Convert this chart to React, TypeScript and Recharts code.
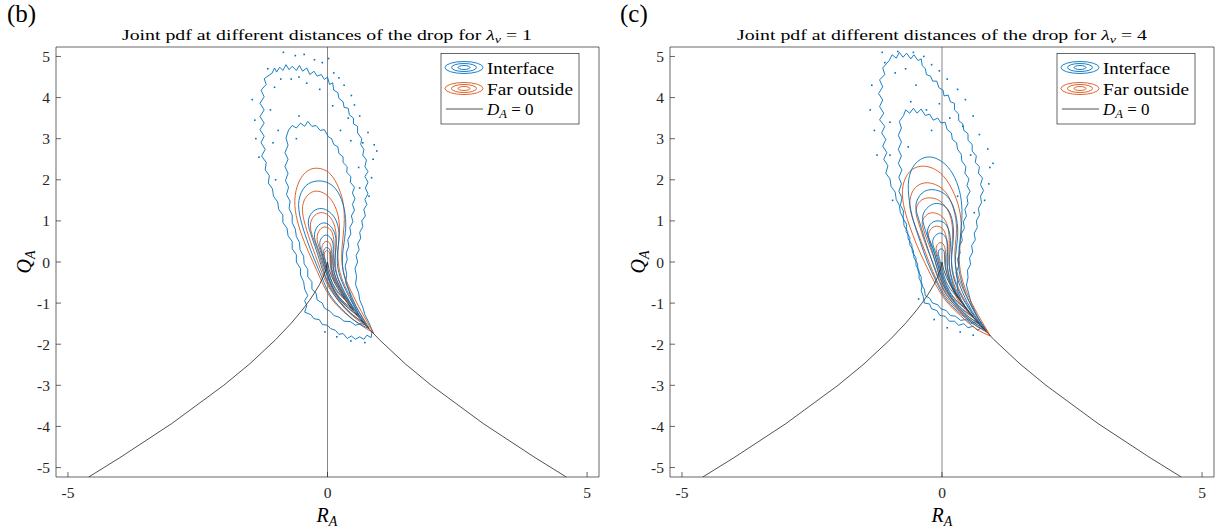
import React from 'react'
import { ComposedChart, Line, Scatter, XAxis, YAxis, ReferenceLine } from 'recharts'

const xTicks = [-5, 0, 5]
const yTicks = [-5, -4, -3, -2, -1, 0, 1, 2, 3, 4, 5]
const dom: [number, number] = [-5.23, 5.23]

// D_A = 0 curve
const dCurve = [[-4.6, -5.23], [-4, -4.76], [-3, -3.93], [-2, -3.0], [-1.5, -2.48], [-1, -1.89], [-0.7, -1.49], [-0.5, -1.19], [-0.35, -0.94], [-0.25, -0.75], [-0.15, -0.54], [-0.08, -0.35], [-0.03, -0.18], [0, 0], [0.03, -0.18], [0.08, -0.35], [0.15, -0.54], [0.25, -0.75], [0.35, -0.94], [0.5, -1.19], [0.7, -1.49], [1, -1.89], [1.5, -2.48], [2, -3.0], [3, -3.93], [4, -4.76], [4.6, -5.23]]

// panel (b), lambda = 1 : Interface (blue)
const bB1 = [[-1.07, 4.59], [-1.02, 4.72], [-0.98, 4.62], [-0.92, 4.74], [-0.86, 4.66], [-0.8, 4.8], [-0.74, 4.68], [-0.68, 4.76], [-0.6, 4.66], [-0.54, 4.78], [-0.48, 4.64], [-0.4, 4.72], [-0.34, 4.56], [-0.26, 4.64], [-0.2, 4.52], [-0.12, 4.56], [-0.06, 4.44], [0.0, 4.5], [0.04, 4.32], [0.1, 4.36], [0.12, 4.18], [0.2, 4.12], [0.22, 3.98], [0.3, 3.9], [0.32, 3.76], [0.4, 3.74], [0.42, 3.58], [0.5, 3.5], [0.5, 3.36], [0.58, 3.3], [0.58, 3.14], [0.66, 3.0], [0.64, 2.86], [0.7, 2.74], [0.68, 2.6], [0.75, 2.48], [0.72, 2.32], [0.78, 2.2], [0.72, 2.08], [0.78, 1.94], [0.73, 1.8], [0.78, 1.66], [0.72, 1.52], [0.76, 1.4], [0.7, 1.28], [0.73, 1.12], [0.66, 1.0], [0.68, 0.86], [0.62, 0.72], [0.64, 0.58], [0.58, 0.44], [0.61, 0.3], [0.55, 0.16], [0.58, 0.0], [0.53, -0.16], [0.56, -0.35], [0.54, -0.55], [0.6, -0.75], [0.62, -0.92], [0.68, -1.1], [0.72, -1.28], [0.8, -1.48], [0.86, -1.66], [0.84, -1.84], [0.76, -1.78], [0.7, -1.88], [0.62, -1.82], [0.54, -1.88], [0.46, -1.8], [0.38, -1.86], [0.3, -1.74], [0.22, -1.76], [0.15, -1.66], [0.06, -1.62], [0.0, -1.54], [-0.1, -1.52], [-0.16, -1.4], [-0.26, -1.38], [-0.32, -1.28], [-0.44, -1.22], [-0.4, -1.06], [-0.44, -0.94], [-0.38, -0.82], [-0.44, -0.66], [-0.46, -0.48], [-0.52, -0.32], [-0.52, -0.16], [-0.6, 0.0], [-0.6, 0.18], [-0.68, 0.32], [-0.68, 0.5], [-0.76, 0.64], [-0.78, 0.82], [-0.86, 0.96], [-0.86, 1.14], [-0.94, 1.28], [-0.96, 1.46], [-1.04, 1.6], [-1.06, 1.78], [-1.14, 1.92], [-1.12, 2.1], [-1.2, 2.24], [-1.18, 2.42], [-1.27, 2.58], [-1.2, 2.74], [-1.28, 2.9], [-1.22, 3.06], [-1.3, 3.22], [-1.22, 3.38], [-1.3, 3.54], [-1.22, 3.7], [-1.3, 3.86], [-1.22, 4.02], [-1.28, 4.18], [-1.18, 4.32], [-1.22, 4.46], [-1.07, 4.59]]
const bB2 = [[-0.75, 3.21], [-0.68, 3.32], [-0.6, 3.26], [-0.52, 3.38], [-0.44, 3.3], [-0.38, 3.42], [-0.3, 3.3], [-0.22, 3.32], [-0.14, 3.2], [-0.06, 3.22], [0.02, 3.04], [0.08, 3.0], [0.12, 2.86], [0.2, 2.8], [0.22, 2.64], [0.3, 2.56], [0.3, 2.42], [0.38, 2.32], [0.37, 2.18], [0.45, 2.08], [0.44, 1.94], [0.52, 1.82], [0.48, 1.68], [0.53, 1.54], [0.48, 1.4], [0.52, 1.26], [0.46, 1.12], [0.49, 0.98], [0.43, 0.84], [0.45, 0.68], [0.39, 0.54], [0.41, 0.38], [0.36, 0.22], [0.38, 0.06], [0.34, -0.1], [0.37, -0.3], [0.35, -0.5], [0.42, -0.72], [0.46, -0.92], [0.54, -1.12], [0.6, -1.28], [0.68, -1.42], [0.74, -1.52], [0.64, -1.5], [0.54, -1.54], [0.44, -1.45], [0.32, -1.44], [0.22, -1.34], [0.12, -1.3], [0.05, -1.2], [-0.06, -1.12], [-0.1, -1.0], [-0.2, -0.92], [-0.22, -0.76], [-0.3, -0.66], [-0.3, -0.48], [-0.38, -0.36], [-0.38, -0.18], [-0.45, -0.04], [-0.46, 0.14], [-0.53, 0.3], [-0.54, 0.48], [-0.6, 0.62], [-0.62, 0.8], [-0.68, 0.96], [-0.68, 1.14], [-0.74, 1.3], [-0.72, 1.48], [-0.79, 1.64], [-0.75, 1.82], [-0.81, 1.98], [-0.76, 2.16], [-0.82, 2.32], [-0.76, 2.5], [-0.82, 2.66], [-0.76, 2.84], [-0.8, 3.02], [-0.75, 3.21]]
const bB3 = [[0.8, -1.62], [0.55, -1.45], [0.28, -1.15], [0.05, -0.8], [-0.1, -0.4], [-0.25, 0.05], [-0.4, 0.55], [-0.52, 1.05], [-0.55, 1.5], [-0.42, 1.85], [-0.2, 1.97], [0.02, 1.92], [0.2, 1.7], [0.32, 1.3], [0.35, 0.8], [0.3, 0.3], [0.3, -0.2], [0.42, -0.7], [0.6, -1.2], [0.8, -1.62]]
const bB4 = [[0.7, -1.48], [0.45, -1.25], [0.22, -0.95], [0.05, -0.62], [-0.08, -0.25], [-0.18, 0.15], [-0.3, 0.6], [-0.37, 0.95], [-0.3, 1.2], [-0.15, 1.3], [0.0, 1.25], [0.15, 1.05], [0.22, 0.7], [0.2, 0.3], [0.2, -0.15], [0.32, -0.6], [0.5, -1.05], [0.7, -1.48]]
const bB5 = [[0.6, -1.3], [0.4, -1.12], [0.2, -0.85], [0.05, -0.5], [-0.06, -0.15], [-0.16, 0.25], [-0.25, 0.6], [-0.2, 0.85], [-0.08, 0.95], [0.05, 0.88], [0.15, 0.65], [0.16, 0.3], [0.14, -0.1], [0.24, -0.5], [0.42, -0.95], [0.6, -1.3]]
const bB6 = [[0.5, -1.15], [0.32, -0.98], [0.15, -0.72], [0.03, -0.4], [-0.05, -0.05], [-0.13, 0.3], [-0.14, 0.52], [-0.05, 0.65], [0.05, 0.6], [0.11, 0.4], [0.1, 0.05], [0.15, -0.35], [0.3, -0.75], [0.5, -1.15]]
const bB7 = [[0.35, -0.88], [0.22, -0.75], [0.1, -0.52], [0.02, -0.25], [-0.05, 0.05], [-0.08, 0.25], [-0.02, 0.35], [0.05, 0.28], [0.06, 0.05], [0.1, -0.3], [0.22, -0.62], [0.35, -0.88]]
// panel (b) : Far outside (orange)
const bO1 = [[0.89, -1.73], [0.6, -1.5], [0.3, -1.2], [0.05, -0.85], [-0.12, -0.45], [-0.28, 0.0], [-0.45, 0.5], [-0.58, 1.0], [-0.63, 1.5], [-0.55, 1.95], [-0.38, 2.22], [-0.18, 2.28], [0.02, 2.18], [0.18, 1.9], [0.3, 1.45], [0.32, 0.9], [0.28, 0.35], [0.3, -0.2], [0.45, -0.7], [0.65, -1.2], [0.89, -1.73]]
const bO2 = [[0.8, -1.6], [0.55, -1.38], [0.3, -1.08], [0.08, -0.72], [-0.08, -0.35], [-0.2, 0.05], [-0.33, 0.5], [-0.45, 1.0], [-0.48, 1.35], [-0.4, 1.6], [-0.25, 1.72], [-0.08, 1.68], [0.08, 1.5], [0.2, 1.15], [0.23, 0.7], [0.2, 0.25], [0.24, -0.25], [0.38, -0.7], [0.58, -1.15], [0.8, -1.6]]
const bO3 = [[0.72, -1.5], [0.5, -1.3], [0.28, -1.02], [0.08, -0.65], [-0.05, -0.3], [-0.14, 0.1], [-0.25, 0.5], [-0.33, 0.85], [-0.27, 1.1], [-0.13, 1.2], [0.02, 1.13], [0.13, 0.9], [0.17, 0.55], [0.15, 0.15], [0.18, -0.3], [0.32, -0.75], [0.52, -1.15], [0.72, -1.5]]
const bO4 = [[0.62, -1.35], [0.42, -1.15], [0.22, -0.88], [0.06, -0.55], [-0.04, -0.2], [-0.12, 0.2], [-0.2, 0.55], [-0.15, 0.78], [-0.05, 0.85], [0.06, 0.78], [0.12, 0.55], [0.12, 0.2], [0.12, -0.2], [0.24, -0.6], [0.42, -1.0], [0.62, -1.35]]
const bO5 = [[0.5, -1.18], [0.32, -1.0], [0.16, -0.75], [0.04, -0.45], [-0.04, -0.1], [-0.1, 0.2], [-0.1, 0.4], [-0.03, 0.5], [0.05, 0.44], [0.08, 0.22], [0.08, -0.1], [0.16, -0.45], [0.32, -0.85], [0.5, -1.18]]
const bO6 = [[0.4, -0.98], [0.25, -0.82], [0.12, -0.6], [0.03, -0.3], [-0.03, -0.02], [-0.06, 0.18], [-0.02, 0.28], [0.04, 0.22], [0.05, 0.0], [0.1, -0.35], [0.24, -0.68], [0.4, -0.98]]
const bSpecks = [[-0.85, 5.1], [-0.62, 5.02], [-0.45, 5.05], [-0.25, 4.92], [-0.1, 4.85], [0.02, 4.95], [0.22, 4.48], [0.32, 4.3], [0.46, 4.05], [0.52, 3.82], [0.62, 3.55], [0.78, 3.15], [0.9, 2.85], [0.88, 2.5], [0.85, 2.05], [0.8, 1.6], [-1.45, 3.95], [-1.4, 3.45], [-1.38, 3.0], [-1.32, 2.55], [-1.02, 4.25], [-0.7, 4.45], [-0.4, 4.35], [-0.15, 4.2], [0.1, 3.8], [-0.55, 3.55], [0.45, 2.95], [0.6, 2.3], [-0.95, 3.2], [-1.0, 2.0], [0.72, -1.96], [0.45, -1.92], [0.18, -1.82], [-0.05, -1.7], [0.95, 2.7], [-1.15, 4.7], [-0.9, 4.45], [-0.55, 4.5], [0.12, 4.6], [0.4, 3.5], [0.68, 2.9], [-1.1, 3.7], [-1.05, 2.9], [0.62, 1.8], [-0.6, 3.0], [0.25, 3.2]]

// panel (c), lambda = 4 : Interface (blue)
const cB1 = [[-1.01, 4.91], [-0.96, 5.04], [-0.88, 4.96], [-0.82, 5.1], [-0.75, 4.98], [-0.68, 5.08], [-0.6, 4.94], [-0.54, 5.04], [-0.46, 4.9], [-0.4, 4.94], [-0.38, 4.78], [-0.32, 4.7], [-0.3, 4.56], [-0.22, 4.52], [-0.18, 4.4], [-0.1, 4.4], [-0.06, 4.24], [0.02, 4.18], [0.04, 4.04], [0.12, 4.06], [0.16, 3.9], [0.24, 3.86], [0.24, 3.7], [0.32, 3.6], [0.32, 3.44], [0.4, 3.36], [0.42, 3.2], [0.5, 3.12], [0.5, 2.96], [0.58, 2.86], [0.58, 2.7], [0.66, 2.58], [0.64, 2.42], [0.72, 2.32], [0.7, 2.16], [0.78, 2.04], [0.74, 1.88], [0.8, 1.74], [0.74, 1.6], [0.76, 1.44], [0.7, 1.3], [0.72, 1.14], [0.66, 1.0], [0.68, 0.84], [0.62, 0.7], [0.64, 0.54], [0.57, 0.4], [0.59, 0.24], [0.53, 0.1], [0.55, -0.06], [0.49, -0.2], [0.5, -0.38], [0.47, -0.56], [0.52, -0.8], [0.56, -1.0], [0.64, -1.22], [0.7, -1.38], [0.78, -1.52], [0.85, -1.65], [0.76, -1.6], [0.68, -1.66], [0.6, -1.56], [0.5, -1.6], [0.42, -1.5], [0.32, -1.54], [0.24, -1.44], [0.14, -1.44], [0.06, -1.32], [-0.04, -1.3], [-0.1, -1.18], [-0.2, -1.14], [-0.24, -1.02], [-0.34, -1.0], [-0.36, -0.84], [-0.4, -0.7], [-0.38, -0.54], [-0.44, -0.4], [-0.44, -0.22], [-0.5, -0.08], [-0.5, 0.1], [-0.57, 0.24], [-0.58, 0.42], [-0.65, 0.56], [-0.66, 0.74], [-0.73, 0.88], [-0.74, 1.06], [-0.8, 1.2], [-0.82, 1.38], [-0.88, 1.52], [-0.9, 1.7], [-0.98, 1.84], [-1.0, 2.02], [-1.08, 2.16], [-1.04, 2.34], [-1.12, 2.5], [-1.06, 2.66], [-1.14, 2.82], [-1.08, 2.98], [-1.16, 3.14], [-1.1, 3.3], [-1.2, 3.46], [-1.12, 3.62], [-1.2, 3.78], [-1.14, 3.94], [-1.22, 4.1], [-1.14, 4.26], [-1.2, 4.43], [-1.1, 4.56], [-1.14, 4.72], [-1.01, 4.91]]
const cB2 = [[-0.7, 3.7], [-0.62, 3.62], [-0.55, 3.74], [-0.48, 3.62], [-0.4, 3.72], [-0.32, 3.56], [-0.24, 3.6], [-0.17, 3.45], [-0.08, 3.5], [-0.02, 3.38], [0.06, 3.4], [0.1, 3.22], [0.18, 3.14], [0.2, 2.98], [0.28, 2.9], [0.3, 2.74], [0.37, 2.62], [0.38, 2.46], [0.46, 2.32], [0.44, 2.16], [0.52, 2.02], [0.48, 1.86], [0.54, 1.72], [0.48, 1.58], [0.5, 1.42], [0.44, 1.28], [0.47, 1.12], [0.41, 0.98], [0.43, 0.82], [0.37, 0.68], [0.39, 0.52], [0.33, 0.38], [0.35, 0.22], [0.3, 0.08], [0.32, -0.1], [0.27, -0.26], [0.3, -0.46], [0.3, -0.7], [0.37, -0.92], [0.46, -1.12], [0.56, -1.3], [0.66, -1.42], [0.73, -1.49], [0.64, -1.46], [0.55, -1.5], [0.46, -1.4], [0.36, -1.42], [0.26, -1.32], [0.16, -1.3], [0.08, -1.18], [-0.02, -1.14], [-0.08, -1.04], [-0.18, -1.0], [-0.24, -0.88], [-0.32, -0.82], [-0.34, -0.66], [-0.4, -0.54], [-0.4, -0.36], [-0.46, -0.22], [-0.47, -0.04], [-0.54, 0.1], [-0.55, 0.28], [-0.62, 0.42], [-0.62, 0.6], [-0.69, 0.74], [-0.68, 0.92], [-0.75, 1.06], [-0.74, 1.24], [-0.8, 1.38], [-0.77, 1.56], [-0.83, 1.72], [-0.78, 1.9], [-0.83, 2.06], [-0.77, 2.24], [-0.84, 2.4], [-0.78, 2.58], [-0.84, 2.74], [-0.78, 2.92], [-0.84, 3.08], [-0.78, 3.26], [-0.82, 3.42], [-0.74, 3.56], [-0.7, 3.7]]
const cB3 = [[0.85, -1.68], [0.6, -1.5], [0.3, -1.2], [0.05, -0.85], [-0.12, -0.45], [-0.28, 0.0], [-0.42, 0.5], [-0.55, 1.0], [-0.63, 1.5], [-0.64, 2.0], [-0.52, 2.38], [-0.3, 2.55], [-0.08, 2.5], [0.12, 2.3], [0.28, 1.95], [0.37, 1.5], [0.38, 1.0], [0.34, 0.45], [0.32, -0.1], [0.42, -0.65], [0.62, -1.2], [0.85, -1.68]]
const cB4 = [[0.8, -1.6], [0.55, -1.42], [0.28, -1.1], [0.06, -0.75], [-0.08, -0.38], [-0.2, 0.05], [-0.33, 0.55], [-0.45, 1.05], [-0.5, 1.4], [-0.38, 1.68], [-0.18, 1.76], [0.02, 1.68], [0.18, 1.45], [0.28, 1.05], [0.3, 0.6], [0.26, 0.15], [0.28, -0.3], [0.4, -0.75], [0.58, -1.2], [0.8, -1.6]]
const cB5 = [[0.72, -1.5], [0.48, -1.3], [0.25, -1.0], [0.06, -0.65], [-0.06, -0.3], [-0.15, 0.1], [-0.26, 0.55], [-0.36, 0.95], [-0.35, 1.2], [-0.22, 1.38], [-0.06, 1.42], [0.1, 1.3], [0.2, 1.0], [0.22, 0.6], [0.19, 0.2], [0.2, -0.25], [0.32, -0.7], [0.5, -1.1], [0.72, -1.5]]
const cB6 = [[0.6, -1.32], [0.4, -1.15], [0.2, -0.88], [0.05, -0.55], [-0.05, -0.2], [-0.13, 0.15], [-0.23, 0.5], [-0.28, 0.75], [-0.2, 0.95], [-0.06, 1.0], [0.07, 0.92], [0.15, 0.68], [0.16, 0.35], [0.14, 0.0], [0.18, -0.4], [0.32, -0.85], [0.6, -1.32]]
const cB7 = [[0.48, -1.15], [0.3, -0.98], [0.14, -0.72], [0.03, -0.42], [-0.05, -0.1], [-0.12, 0.22], [-0.18, 0.48], [-0.12, 0.65], [-0.02, 0.7], [0.07, 0.6], [0.11, 0.38], [0.1, 0.05], [0.14, -0.35], [0.28, -0.78], [0.48, -1.15]]
const cB8 = [[0.32, -0.88], [0.2, -0.72], [0.08, -0.48], [0.01, -0.2], [-0.05, 0.08], [-0.07, 0.25], [-0.02, 0.32], [0.04, 0.26], [0.05, 0.05], [0.09, -0.28], [0.2, -0.6], [0.32, -0.88]]
// panel (c) : Far outside (orange)
const cO1 = [[0.93, -1.8], [0.65, -1.62], [0.35, -1.3], [0.08, -0.95], [-0.12, -0.55], [-0.3, -0.1], [-0.48, 0.4], [-0.63, 0.9], [-0.74, 1.4], [-0.75, 1.85], [-0.62, 2.2], [-0.4, 2.33], [-0.18, 2.28], [0.02, 2.1], [0.2, 1.75], [0.33, 1.3], [0.37, 0.8], [0.34, 0.3], [0.35, -0.2], [0.48, -0.75], [0.7, -1.3], [0.93, -1.8]]
const cO2 = [[0.88, -1.72], [0.62, -1.52], [0.33, -1.2], [0.08, -0.85], [-0.1, -0.45], [-0.25, 0.0], [-0.4, 0.5], [-0.55, 1.0], [-0.62, 1.4], [-0.55, 1.75], [-0.35, 1.92], [-0.12, 1.88], [0.08, 1.68], [0.22, 1.3], [0.28, 0.8], [0.25, 0.3], [0.28, -0.2], [0.42, -0.7], [0.64, -1.25], [0.88, -1.72]]
const cO3 = [[0.8, -1.62], [0.56, -1.42], [0.3, -1.12], [0.08, -0.76], [-0.06, -0.4], [-0.18, 0.0], [-0.32, 0.45], [-0.45, 0.95], [-0.5, 1.25], [-0.42, 1.48], [-0.25, 1.56], [-0.06, 1.5], [0.1, 1.28], [0.19, 0.95], [0.2, 0.55], [0.18, 0.15], [0.22, -0.3], [0.36, -0.75], [0.56, -1.2], [0.8, -1.62]]
const cO4 = [[0.72, -1.52], [0.5, -1.32], [0.26, -1.02], [0.07, -0.68], [-0.05, -0.32], [-0.14, 0.05], [-0.26, 0.45], [-0.37, 0.85], [-0.36, 1.05], [-0.25, 1.18], [-0.1, 1.18], [0.04, 1.05], [0.12, 0.8], [0.14, 0.45], [0.13, 0.1], [0.17, -0.3], [0.3, -0.75], [0.48, -1.15], [0.72, -1.52]]
const cO5 = [[0.6, -1.35], [0.4, -1.17], [0.2, -0.9], [0.05, -0.58], [-0.04, -0.25], [-0.12, 0.1], [-0.2, 0.42], [-0.26, 0.65], [-0.2, 0.82], [-0.08, 0.87], [0.03, 0.78], [0.09, 0.55], [0.1, 0.25], [0.1, -0.1], [0.16, -0.5], [0.32, -0.95], [0.6, -1.35]]
const cO6 = [[0.46, -1.12], [0.3, -0.96], [0.15, -0.72], [0.04, -0.42], [-0.03, -0.12], [-0.09, 0.18], [-0.11, 0.36], [-0.04, 0.47], [0.04, 0.4], [0.07, 0.18], [0.07, -0.1], [0.14, -0.45], [0.28, -0.82], [0.46, -1.12]]
const cSpecks = [[-1.15, 5.1], [-0.85, 5.12], [-0.55, 5.1], [-0.35, 5.0], [-0.2, 4.8], [-0.05, 4.65], [0.1, 4.45], [0.3, 4.2], [0.45, 3.95], [0.6, 3.55], [0.72, 3.1], [0.88, 2.75], [0.92, 2.3], [0.9, 1.9], [0.82, 1.5], [-1.35, 4.3], [-1.38, 3.7], [-1.3, 3.2], [-1.25, 2.6], [-1.0, 3.4], [-0.6, 3.9], [-0.3, 3.7], [-0.05, 3.85], [0.15, 3.5], [-0.65, 2.8], [0.55, 2.6], [0.62, 1.2], [-0.95, 1.5], [0.6, -1.78], [0.35, -1.7], [0.1, -1.6], [-0.15, -1.4], [0.98, 2.4], [-1.1, 4.85], [-0.9, 4.6], [-0.7, 4.7], [-0.5, 4.3], [-0.2, 3.2], [0.4, 3.3], [-1.0, 2.6], [0.3, 1.6], [-0.45, -0.9]]

const BLUE = '#0072BD'
const ORANGE = '#D95319'
const AX = '#262626'
const FONT = 'Liberation Serif'

const pts = (a: number[][]) => a.map(([r, q]) => ({ r, q }))

type PanelProps = {
  left: number
  width: number
  plotLeft: number
  plotRight: number
  noisy: number[][][]
  blue: number[][][]
  orange: number[][][]
  specks: number[][]
}

function Panel({ left, width, plotLeft, plotRight, noisy, blue, orange, specks }: PanelProps) {
  const tickStyle = { fill: AX, fontSize: 15.5, fontFamily: FONT }
  return (
    <div style={{ position: 'absolute', left, top: 0, fontFamily: FONT }}>
      <ComposedChart width={width} height={532} style={{ fontFamily: FONT }} margin={{ top: 46, left: plotLeft - 1, right: width - plotRight - 1, bottom: 54 }}>
        <XAxis type="number" dataKey="r" domain={dom} ticks={xTicks} allowDataOverflow height={1} tickSize={-5} tickMargin={15} stroke={AX} strokeWidth={0.7} tick={tickStyle} />
        <XAxis xAxisId="top" orientation="top" type="number" dataKey="r" domain={dom} ticks={xTicks} allowDataOverflow height={1} tickSize={-5} stroke={AX} strokeWidth={0.7} tick={false} />
        <YAxis type="number" dataKey="q" domain={dom} ticks={yTicks} allowDataOverflow width={1} tickSize={-5} tickMargin={11} stroke={AX} strokeWidth={0.7} tick={tickStyle} />
        <YAxis yAxisId="right" orientation="right" type="number" dataKey="q" domain={dom} ticks={yTicks} allowDataOverflow width={1} tickSize={-5} stroke={AX} strokeWidth={0.7} tick={false} />
        <ReferenceLine x={0} stroke="#7a7a7a" strokeWidth={0.9} />
        {noisy.map((d, i) => (
          <Line key={'n' + i} data={pts(d)} dataKey="q" type="linear" stroke={BLUE} strokeWidth={0.9} dot={false} isAnimationActive={false} />
        ))}
        <Scatter data={pts(specks)} dataKey="q" fill={BLUE} isAnimationActive={false}
          shape={(p: any) => <rect x={p.cx - 0.8} y={p.cy - 0.8} width={1.6} height={1.6} fill={BLUE} />} />
        {orange.map((d, i) => (
          <Line key={'o' + i} data={pts(d)} dataKey="q" type="natural" stroke={ORANGE} strokeWidth={0.9} dot={false} isAnimationActive={false} />
        ))}
        {blue.map((d, i) => (
          <Line key={'b' + i} data={pts(d)} dataKey="q" type="natural" stroke={BLUE} strokeWidth={0.9} dot={false} isAnimationActive={false} />
        ))}
        <Line data={pts(dCurve)} dataKey="q" type="linear" stroke={AX} strokeWidth={0.8} dot={false} isAnimationActive={false} />
      </ComposedChart>
    </div>
  )
}

function Ellipses({ cx, cy, color }: { cx: number; cy: number; color: string }) {
  return (
    <g fill="none" stroke={color} strokeWidth={0.9}>
      <ellipse cx={cx} cy={cy} rx={19} ry={6} />
      <ellipse cx={cx} cy={cy} rx={12.5} ry={4} />
      <ellipse cx={cx} cy={cy} rx={6} ry={2} />
    </g>
  )
}

function LegendBox({ x }: { x: number }) {
  const ix = x + 23
  const tx = x + 46
  return (
    <g fontFamily={FONT} fontSize={17} fill="#000">
      <rect x={x} y={53.5} width={138} height={70.5} fill="#fff" stroke={AX} strokeWidth={0.7} />
      <Ellipses cx={ix} cy={67.5} color={BLUE} />
      <text x={tx} y={73.5} textLength={67} lengthAdjust="spacingAndGlyphs">Interface</text>
      <Ellipses cx={ix} cy={88.5} color={ORANGE} />
      <text x={tx} y={94.5} textLength={86} lengthAdjust="spacingAndGlyphs">Far outside</text>
      <line x1={x + 5} x2={x + 42} y1={109} y2={109} stroke={AX} strokeWidth={0.8} />
      <text x={tx} y={115}>
        <tspan fontStyle="italic">D</tspan>
        <tspan fontStyle="italic" fontSize={12.5} dy={3}>A</tspan>
        <tspan dy={-3}> = 0</tspan>
      </text>
    </g>
  )
}

function Title({ x, value }: { x: number; value: string }) {
  return (
    <text x={x} y={40} fontFamily={FONT} fontSize={15.5} fill="#000" textLength={410} lengthAdjust="spacingAndGlyphs">
      Joint pdf at different distances of the drop for <tspan fontStyle="italic">λ</tspan>
      <tspan fontStyle="italic" fontSize={11} dy={3}>ν</tspan>
      <tspan dy={-3}> = {value}</tspan>
    </text>
  )
}

function AxisLabels({ cx, qx }: { cx: number; qx: number }) {
  return (
    <g fontFamily={FONT} fontSize={20} fill="#000">
      <text x={cx} y={522} textAnchor="middle">
        <tspan fontStyle="italic">R</tspan>
        <tspan fontStyle="italic" fontSize={14} dy={4}>A</tspan>
      </text>
      <text transform={`translate(${qx},262) rotate(-90)`} textAnchor="middle">
        <tspan fontStyle="italic">Q</tspan>
        <tspan fontStyle="italic" fontSize={14} dy={4}>A</tspan>
      </text>
    </g>
  )
}

export default function App() {
  return (
    <div style={{ position: 'absolute', left: 0, top: 0, width: 1225, height: 532, background: '#fff' }}>
      <Panel left={0} width={612} plotLeft={56} plotRight={599} noisy={[bB1, bB2]} blue={[bB3, bB4, bB5, bB6, bB7]} orange={[bO1, bO2, bO3, bO4, bO5, bO6]} specks={bSpecks} />
      <Panel left={612} width={613} plotLeft={58} plotRight={602} noisy={[cB1, cB2]} blue={[cB3, cB4, cB5, cB6, cB7, cB8]} orange={[cO1, cO2, cO3, cO4, cO5, cO6]} specks={cSpecks} />
      <svg width={1225} height={532} style={{ position: 'absolute', left: 0, top: 0, pointerEvents: 'none' }}>
        <text x={7} y={22} fontFamily={FONT} fontSize={25}>(b)</text>
        <text x={620} y={22} fontFamily={FONT} fontSize={25}>(c)</text>
        <Title x={122} value="1" />
        <Title x={737} value="4" />
        <AxisLabels cx={327} qx={31} />
        <AxisLabels cx={942} qx={645} />
        <LegendBox x={441} />
        <LegendBox x={1057} />
      </svg>
    </div>
  )
}
